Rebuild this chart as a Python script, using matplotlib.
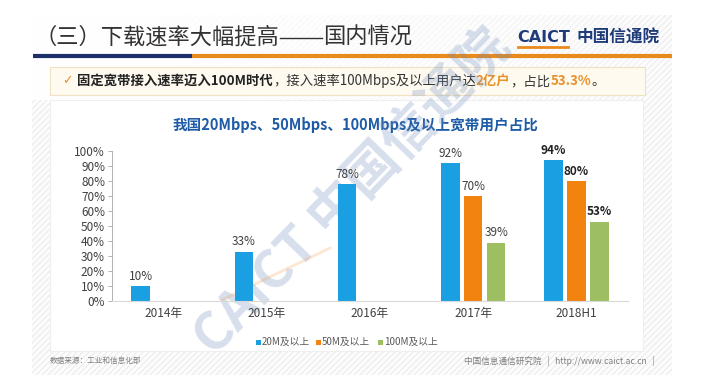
import numpy as np
import matplotlib
matplotlib.use("Agg")
import matplotlib.pyplot as plt
from matplotlib.patches import Rectangle
from matplotlib.lines import Line2D

plt.rcParams['font.family'] = ['Noto Sans CJK SC', 'DejaVu Sans']

# ---------------- data ----------------
categories = ["2014年", "2015年", "2016年", "2017年", "2018H1"]
series_names = ["20M及以上", "50M及以上", "100M及以上"]
s20 = [10, 33, 78, 92, 94]
s50 = [None, None, None, 70, 80]
s100 = [None, None, None, 39, 53]
yticks = [0, 10, 20, 30, 40, 50, 60, 70, 80, 90, 100]

colors = ["#1A9FE3", "#F2830F", "#9DBF62"]

W, H = 715, 387
fig = plt.figure(figsize=(W / 100, H / 100), dpi=100)
fig.patch.set_facecolor("white")

# background axes in pixel coordinates
bg = fig.add_axes([0, 0, 1, 1], zorder=-1)
bg.set_xlim(0, W)
bg.set_ylim(H, 0)
bg.axis("off")

# slide panel hatch
px0, px1, py0, py1 = 32, 672, 15, 375
panel = Rectangle((px0, py0), px1 - px0, py1 - py0, facecolor="#FCFCFC",
                  edgecolor="none", zorder=0)
bg.add_patch(panel)
for c in range(px0 - 400, px1 + 10, 6):
    ln = Line2D([c, c + 400], [py1 + 20, py1 + 20 - 400], color="#EAEAEA",
                lw=0.7, zorder=0.5)
    bg.add_line(ln)
    ln.set_clip_path(panel)

# header white gradient (left white -> right transparent)
grad = np.ones((2, 200, 4))
grad[..., 3] = np.linspace(1.0, 0.0, 200) ** 0.6
bg.imshow(grad, extent=(px0, px1, 100, py0), aspect="auto", zorder=0.8,
          interpolation="bilinear")
bg.set_xlim(0, W)
bg.set_ylim(H, 0)

# content white box
bg.add_patch(Rectangle((50, 100), 593, 251, facecolor="white",
                       edgecolor="#EFEFEF", lw=0.8, zorder=1))

# title
bg.text(34, 37, "（三）下载速率大幅提高", fontsize=16, color="#333333",
        va="center", ha="left", zorder=3, fontweight="light")
t_end = bg.texts[-1].get_window_extent(renderer=fig.canvas.get_renderer()).x1
bg.plot([t_end + 1, t_end + 43], [38, 38], color="#333333", lw=1.0, zorder=3)
bg.text(t_end + 44, 37, "国内情况", fontsize=16, color="#333333",
        va="center", ha="left", zorder=3, fontweight="light")
# title underline: navy then orange
bg.plot([33, 192], [55.5, 55.5], color="#1C2F6B", lw=3, solid_capstyle="butt", zorder=3)
bg.plot([192, 672], [55.5, 55.5], color="#E88A1C", lw=3, solid_capstyle="butt", zorder=3)

# CAICT logo
bg.text(517, 38, "CAICT", fontsize=11.5, fontweight="bold", color="#1F3B7A",
        va="center", ha="left", family=["DejaVu Sans"], zorder=3)
bg.plot([518, 568], [47, 47], color="#E88A1C", lw=2, zorder=3)
bg.text(577, 38, "中国信通院", fontsize=12, fontweight="bold", color="#1F3B7A",
        va="center", ha="left", zorder=3)

# callout box
bg.add_patch(Rectangle((50, 67), 595, 28, facecolor="#FEFAF0", edgecolor="#F0E2C0",
                       lw=0.8, zorder=2))
bg.text(62, 81, "✓", fontsize=9, color="#E8912B", va="center", ha="left",
        family=["DejaVu Sans"], zorder=3)

renderer = fig.canvas.get_renderer()
segments = [
    ("固定宽带接入速率迈入100M时代", "bold", "#222222"),
    ("，接入速率100Mbps及以上用户达", "normal", "#333333"),
    ("2亿户", "bold", "#E8912B"),
    ("，占比", "normal", "#333333"),
    ("53.3%", "bold", "#E8912B"),
    ("。", "normal", "#333333"),
]
x = 77
for txt, wt, col in segments:
    t = bg.text(x, 81, txt, fontsize=9.6, fontweight=wt, color=col,
                va="center", ha="left", zorder=3)
    bb = t.get_window_extent(renderer=renderer)
    x = bb.x1

# chart title
bg.text(355, 125, "我国20Mbps、50Mbps、100Mbps及以上宽带用户占比", fontsize=10.5,
        fontweight="bold", color="#1D5BA6", va="center", ha="center", zorder=3)

# ---------------- chart axes ----------------
ax = fig.add_axes([112 / W, (H - 301) / H, 516 / W, 150 / H], zorder=2)
ax.set_facecolor("none")
xpos = np.arange(len(categories))
bw = 0.18
offs = [-0.222, 0.0, 0.222]
all_series = [s20, s50, s100]
for i, (ser, col) in enumerate(zip(all_series, colors)):
    for j, v in enumerate(ser):
        if v is None:
            continue
        ax.bar(xpos[j] + offs[i], v, width=bw, color=col, zorder=2)
        bold = categories[j] == "2018H1"
        ax.annotate(f"{v}%", (xpos[j] + offs[i], v), xytext=(0, 2.5),
                    textcoords="offset points", ha="center", va="bottom",
                    fontsize=8.5, color="#222222" if bold else "#404040",
                    fontweight="bold" if bold else "normal")

ax.set_xlim(-0.5, 4.5)
ax.set_ylim(0, 100)
ax.set_yticks(yticks)
ax.set_yticklabels([f"{v}%" for v in yticks], fontsize=8.5, color="#404040")
ax.set_xticks(xpos)
ax.set_xticklabels(categories, fontsize=8.5, color="#404040")
ax.tick_params(axis="x", length=0, pad=4)
ax.tick_params(axis="y", length=3, width=0.6, color="#A6A6A6", pad=2)
for s in ["top", "right"]:
    ax.spines[s].set_visible(False)
ax.spines["left"].set_color("#A6A6A6")
ax.spines["left"].set_linewidth(0.6)
ax.spines["bottom"].set_color("#D9D9D9")
ax.spines["bottom"].set_linewidth(0.8)

# legend
leg_x = [258, 318, 380]
for lx, name, col in zip(leg_x, series_names, colors):
    bg.add_patch(Rectangle((lx - 2.5, 339.5), 5, 5, facecolor=col, edgecolor="none", zorder=3))
    bg.text(lx + 4, 342, name, fontsize=7, color="#595959", va="center", ha="left", zorder=3)

# footers
bg.text(50, 361, "数据来源：工业和信息化部", fontsize=5.5, color="#7F7F7F",
        va="center", ha="left", zorder=3)
bg.text(655, 361, "中国信息通信研究院   |   http://www.caict.ac.cn   |", fontsize=6.2,
        color="#7F7F7F", va="center", ha="right", zorder=3)

# watermark
bg.text(352, 192, "CAICT 中国信通院", fontsize=38, fontweight="bold", color="#6F8DBE",
        alpha=0.28, rotation=46, ha="center", va="center", rotation_mode="anchor",
        zorder=4)
bg.plot([222, 330], [300, 248], color="#F0A050", lw=2, alpha=0.25, zorder=4)

fig.savefig("out.png", dpi=100)
